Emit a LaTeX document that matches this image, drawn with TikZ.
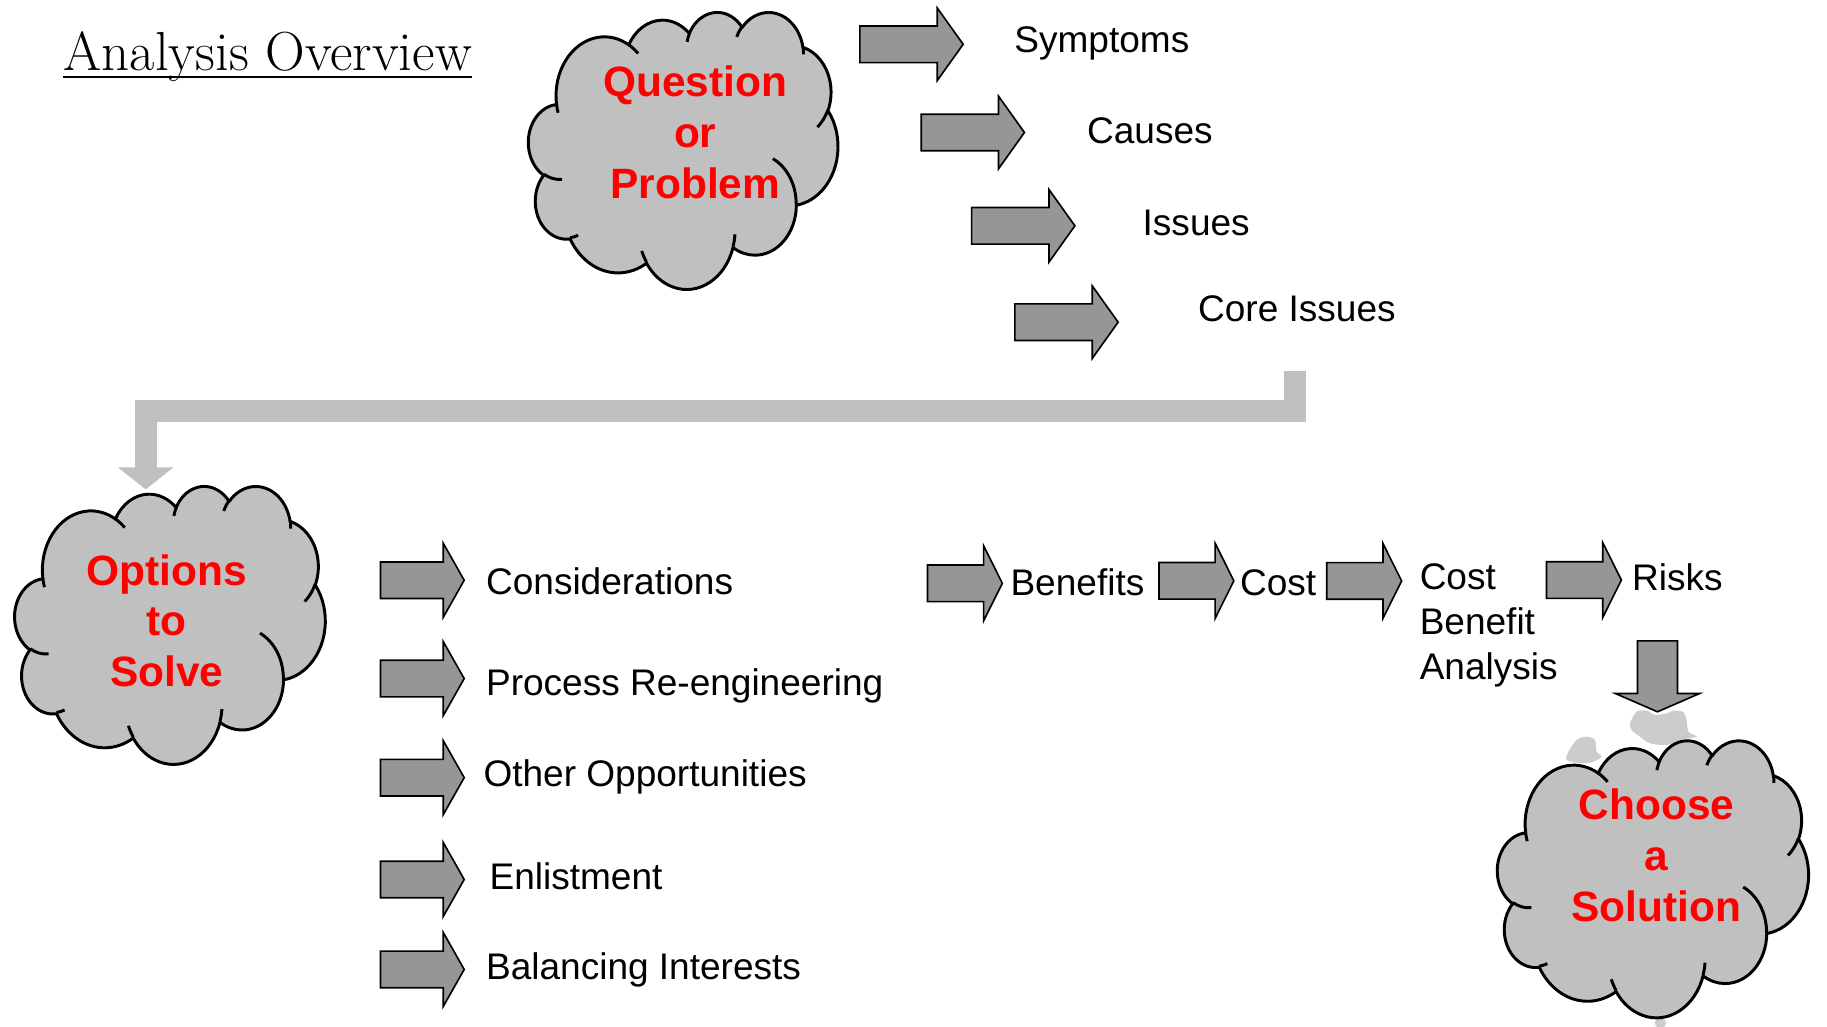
\documentclass[tikz,border=0pt]{standalone}
\usepackage{fontspec}
\setsansfont{Liberation Sans}
\usetikzlibrary{shapes.arrows,arrows.meta}

\definecolor{cloudgray}{RGB}{192,192,192}
\definecolor{arrowgray}{RGB}{150,150,150}
\definecolor{blobgray}{RGB}{204,204,204}

\newlength{\dpx}
\setlength{\dpx}{0.025cm}

% one arc of the cloud: x radius, y radius, start angle, sweep (visual angles)
\newcommand{\cloudarc}[4]{arc[x radius=#1, y radius=#2,
  start angle={atan2(#1*sin(#3),#2*cos(#3))},
  delta angle={mod(atan2(#1*sin(#3+#4),#2*cos(#3+#4))-atan2(#1*sin(#3),#2*cos(#3))+720,360)}]}

% cloud in a 432 x 432 box: top left x, y, width, height
\newcommand{\pptcloud}[4]{%
  \begin{scope}[shift={(#1,#2)}, xscale=#3/432, yscale=-#4/432]
    \filldraw[cloudline, fill=cloudgray] (39,143.7)
      \cloudarc{67.53}{91.90}{-190.4875}{123.7805}
      \cloudarc{53.33}{72.67}{-144.1024}{89.9452}
      \cloudarc{43.65}{59.45}{-145.8079}{99.7230}
      \cloudarc{48.57}{65.95}{-130.9861}{117.2417}
      \cloudarc{53.33}{72.73}{-78.7089}{109.0269}
      \cloudarc{67.75}{92.20}{-46.2673}{130.2690}
      \cloudarc{57.85}{78.67}{0.6250}{114.0333}
      \cloudarc{67.52}{92.15}{22.4516}{115.1726}
      \cloudarc{77.20}{105.43}{66.2426}{75.7110}
      \cloudarc{43.60}{59.18}{-274.9421}{146.7356}
      \cloudarc{43.45}{59.45}{-246.8285}{152.5189} -- cycle;
    \draw[cloudline] (46.93,261.77) \cloudarc{43.45}{59.45}{86.7420}{26.4295}
      (69.28,348.99) \cloudarc{43.60}{59.18}{73.6105}{11.4475}
      (164.78,390.90) \cloudarc{67.52}{92.15}{137.6242}{14.0811}
      (288.27,347.51) \cloudarc{67.52}{92.15}{6.4533}{15.9984}
      (341.29,229.54) \cloudarc{57.85}{78.67}{-70.2924}{70.9174}
      (417.98,153.54) \cloudarc{53.33}{72.73}{30.3180}{27.7515}
      (383.24,54.26) \cloudarc{48.57}{65.95}{-13.7443}{14.8589}
      (290.78,39.52) \cloudarc{48.57}{65.95}{-149.1815}{18.1954}
      (221.41,47.20) \cloudarc{43.65}{59.45}{-163.4943}{17.6864}
      (140.00,51.92) \cloudarc{67.53}{91.90}{-66.7070}{12.3194}
      (41.27,157.89) \cloudarc{67.53}{91.90}{157.6544}{11.8582};
  \end{scope}}

\begin{document}
\begin{tikzpicture}[x=0.025cm, y=0.025cm,
  cloudline/.style={draw=black, line width=1.8pt, line join=round},
  blockarrow/.style={single arrow, draw=black, fill=arrowgray, line width=1pt, anchor=tail},
  toparrow/.style={blockarrow, inner xsep=38*\dpx, inner ysep=15*\dpx,
    single arrow head extend=15.5*\dpx, single arrow tip angle=109},
  listarrow/.style={blockarrow, inner xsep=30.8*\dpx, inner ysep=15*\dpx,
    single arrow head extend=16*\dpx, single arrow tip angle=121},
  rowarrow/.style={blockarrow, inner xsep=27.5*\dpx, inner ysep=15*\dpx,
    single arrow head extend=16.5*\dpx, single arrow tip angle=127},
  downarrow/.style={blockarrow, rotate=-90, inner xsep=26*\dpx, inner ysep=16.5*\dpx,
    single arrow head extend=19*\dpx, single arrow tip angle=133},
  feedline/.style={draw=cloudgray, line width=13.5pt, -{Triangle[width=33.4pt, length=13.5pt]}},
  titletext/.style={anchor=base west, inner sep=0pt, font=\fontsize{33.6}{37}\selectfont},
  itemtext/.style={anchor=base west, inner sep=0pt, font=\sffamily\fontsize{22.6}{27.4}\selectfont},
  cloudtext/.style={anchor=base, inner sep=0pt, text width=8cm, align=center, text=red,
    font=\sffamily\bfseries\fontsize{25.9}{31.1}\selectfont}]
\useasboundingbox (0,0) rectangle (1568,-881);

\node[titletext] (title) at (54.2,-60.1) {Analysis Overview};
\draw[line width=1.2pt] ([yshift=-6.3*\dpx]title.base west) -- ([yshift=-6.3*\dpx]title.base east);

\pptcloud{453.6}{-9.9}{265.5}{237.7}
\node[cloudtext] (question) at (596.7,-83) {Question\\or\\Problem};

\node[toparrow] (symarrow) at (737.3,-38.0) {};
\node[toparrow] (causearrow) at (789.9,-113.7) {};
\node[toparrow] (issuearrow) at (833.2,-193.8) {};
\node[toparrow] (corearrow) at (870.3,-276.5) {};
\node[itemtext] (symptoms) at (870.3,-45.2) {Symptoms};
\node[itemtext] (causes) at (932.7,-123.0) {Causes};
\node[itemtext] (issues) at (980.4,-201.7) {Issues};
\node[itemtext] (coreissues) at (1028,-276.1) {Core Issues};

\coordinate (feedstart) at (1111.5,-318);
\coordinate (optionstop) at (125,-420);
\draw[feedline] (feedstart) -- ++(0,-35) -| (optionstop);

\pptcloud{12.7}{-416.7}{266.4}{238.5}
\node[cloudtext] (options) at (143,-502.1) {Options\\to\\Solve};

\node[listarrow] (consarrow) at (325.8,-498.0) {};
\node[listarrow] (procarrow) at (325.8,-582.4) {};
\node[listarrow] (opparrow) at (325.8,-667.4) {};
\node[listarrow] (enlarrow) at (325.8,-754.8) {};
\node[listarrow] (balarrow) at (325.8,-832.0) {};
\node[itemtext] (considerations) at (416.9,-509.8) {Considerations};
\node[itemtext] (process) at (416.9,-597.0) {Process Re-engineering};
\node[itemtext] (opportunities) at (414.7,-675.0) {Other Opportunities};
\node[itemtext] (enlistment) at (419.9,-763.8) {Enlistment};
\node[itemtext] (balancing) at (416.9,-840.5) {Balancing Interests};

\node[rowarrow] (benarrow) at (795.3,-500.6) {};
\node[rowarrow] (costarrow) at (994,-498.5) {};
\node[rowarrow] (cbaarrow) at (1138,-498.6) {};
\node[rowarrow] (riskarrow) at (1326.6,-497.8) {};
\node[itemtext] (benefits) at (867,-511.5) {Benefits};
\node[itemtext] (cost) at (1064,-511.5) {Cost};
\node[itemtext, text width=5cm, align=left] (cba) at (1218.2,-506.3) {Cost\\Benefit\\Analysis};
\node[itemtext] (risks) at (1400.5,-507) {Risks};

\fill[blobgray] plot[smooth cycle] coordinates {(1398.9,-620.8) (1404.6,-610.8) (1413.2,-609.9)
  (1420.4,-613.6) (1430.4,-612.2) (1436.1,-609.9) (1444.6,-611.1) (1447.5,-617.9) (1449,-628)
  (1456.1,-632.2) (1441.8,-635.1) (1430.4,-639.4) (1416.1,-637.9) (1407.5,-632.2) (1400.3,-626.5)};
\fill[blobgray] plot[smooth cycle] coordinates {(1346,-645.1) (1353.1,-635.1) (1361.7,-632.2)
  (1368.9,-635.1) (1370.3,-645.1) (1374.6,-649.4) (1367.4,-653.7) (1356,-655.1) (1344.6,-652.3)};
\fill[blobgray] (1425,-878) ellipse (5 and 4);

\node[downarrow] (choosearrow) at (1422.5,-549.3) {};

\pptcloud{1285.2}{-635}{266.9}{237.7}
\node[cloudtext] (choose) at (1421.6,-703.2) {Choose\\a\\Solution};
\end{tikzpicture}
\end{document}
